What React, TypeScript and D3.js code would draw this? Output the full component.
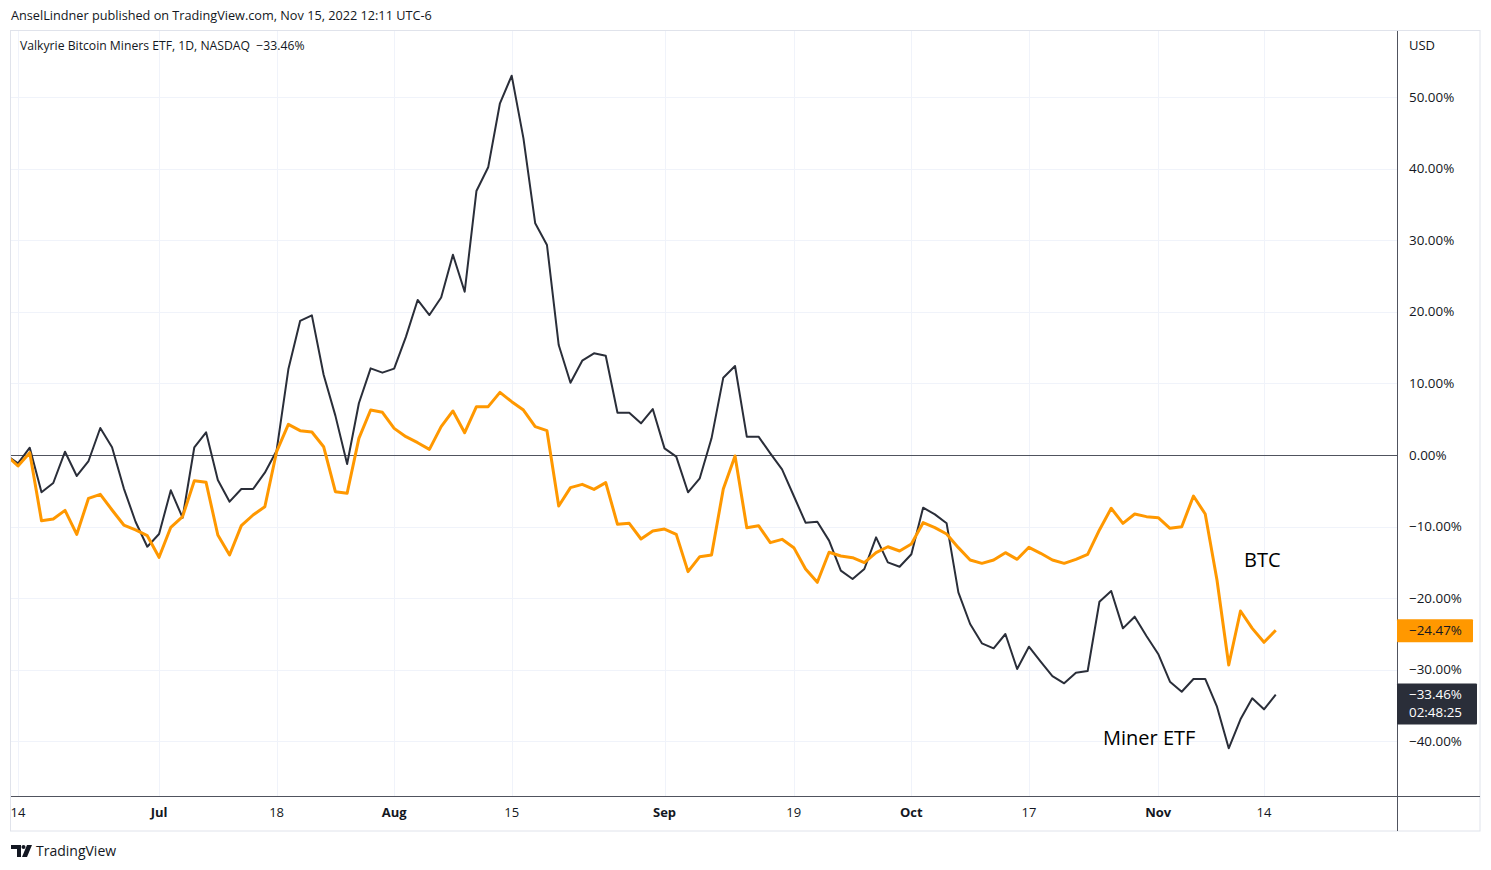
import React from "react";
import * as d3 from "d3";

// trading sessions, 2022 (MM-DD)
const sessions = [
  "06-13", "06-14", "06-15", "06-16", "06-17", "06-21", "06-22", "06-23", "06-24", "06-27", "06-28", "06-29", "06-30",
  "07-01", "07-05", "07-06", "07-07", "07-08", "07-11", "07-12", "07-13", "07-14", "07-15", "07-18", "07-19", "07-20",
  "07-21", "07-22", "07-25", "07-26", "07-27", "07-28", "07-29",
  "08-01", "08-02", "08-03", "08-04", "08-05", "08-08", "08-09", "08-10", "08-11", "08-12", "08-15", "08-16", "08-17",
  "08-18", "08-19", "08-22", "08-23", "08-24", "08-25", "08-26", "08-29", "08-30", "08-31",
  "09-01", "09-02", "09-06", "09-07", "09-08", "09-09", "09-12", "09-13", "09-14", "09-15", "09-16", "09-19", "09-20",
  "09-21", "09-22", "09-23", "09-26", "09-27", "09-28", "09-29", "09-30",
  "10-03", "10-04", "10-05", "10-06", "10-07", "10-10", "10-11", "10-12", "10-13", "10-14", "10-17", "10-18", "10-19",
  "10-20", "10-21", "10-24", "10-25", "10-26", "10-27", "10-28", "10-31",
  "11-01", "11-02", "11-03", "11-04", "11-07", "11-08", "11-09", "11-10", "11-11", "11-14", "11-15",
];

// Valkyrie Bitcoin Miners ETF, % change
const minerEtf = [
  0, -1.16, 1.02, -5.21, -3.91, 0.46, -2.93, -0.84, 3.77, 1.08, -4.65, -9.32, -12.81,
  -11.03, -4.93, -8.76, 1.08, 3.17, -3.49, -6.52, -4.75, -4.75, -2.47, 0.6, 11.97, 18.72,
  19.5, 11.2, 5.5, -1.26, 7.22, 12.1, 11.5,
  12.06, 16.5, 21.65, 19.55, 22.0, 27.97, 22.8, 36.87, 40.18, 49.12, 52.98, 44.23, 32.36,
  29.33, 15.36, 10.1, 13.17, 14.2, 13.87, 5.91, 5.91, 4.42, 6.42,
  0.93, -0.23, -5.21, -3.26, 2.33, 10.8, 12.43, 2.56, 2.56, 0.23, -2.0, -5.73, -9.45,
  -9.31, -11.96, -16.15, -17.32, -15.92, -11.5, -14.99, -15.6,
  -13.87, -7.36, -8.29, -9.54, -19.18, -23.6, -26.3, -27.0, -25.0, -29.89, -26.77, -28.86, -30.87,
  -31.89, -30.4, -30.17, -20.49, -18.99, -24.21, -22.58, -25.28,
  -27.79, -31.66, -33.06, -31.28, -31.28, -35.15, -40.96, -36.91, -33.98, -35.52, -33.46,
];

// BTC, % change
const btc = [
  0, -1.54, 0.32, -9.17, -8.94, -7.73, -11.08, -6.05, -5.49, -7.68, -9.78, -10.47, -11.27,
  -14.29, -10.1, -8.61, -3.59, -3.82, -11.17, -13.97, -9.87, -8.38, -7.22, 0.46, 4.28, 3.4,
  3.21, 1.16, -5.12, -5.35, 2.33, 6.28, 5.96,
  3.72, 2.56, 1.72, 0.79, 3.96, 6.15, 3.12, 6.75, 6.75, 8.75, 7.45, 6.28, 3.96,
  3.4, -7.12, -4.56, -4.1, -4.8, -3.86, -9.68, -9.54, -11.73, -10.61,
  -10.34, -11.08, -16.29, -14.2, -13.97, -4.75, -0.14, -10.15, -9.87, -12.24, -11.78, -12.94, -15.92,
  -17.78, -13.59, -14.11, -14.34, -15.04, -13.64, -12.81, -13.41,
  -12.43, -9.45, -10.15, -11.03, -12.94, -14.66, -15.13, -14.66, -13.64, -14.57, -12.89, -13.73, -14.66,
  -15.13, -14.57, -13.87, -10.47, -7.44, -9.54, -8.24, -8.61,
  -8.75, -10.24, -10.01, -5.73, -8.24, -17.46, -29.33, -21.79, -24.21, -26.16, -24.47,
];

const tickDates = ["06-14", "07-01", "07-18", "08-01", "08-15", "09-01", "09-19", "10-03", "10-17", "11-01", "11-14"];
const tickLabels = ["14", "Jul", "18", "Aug", "15", "Sep", "19", "Oct", "17", "Nov", "14"];
const monthTicks = ["Jul", "Aug", "Sep", "Oct", "Nov"];
const yTicks = [50, 40, 30, 20, 10, 0, -10, -20, -30, -40];

const W = 1491;
const H = 870;
const plot = { left: 11, top: 31, right: 1397, bottom: 796 };
const outer = { right: 1480, bottom: 831 };
const FONT = "'Open Sans', 'Noto Sans', sans-serif";
const TEXT = "#131722";

const fmtPct = (v: number) => (v < 0 ? "\u2212" : "") + Math.abs(v).toFixed(2) + "%";

export default function App() {
  const x = d3.scaleLinear().domain([1, 107]).range([18, 1264]);
  const y = d3.scaleLinear().domain([-40, 50]).range([741.4, 97]);

  const idx = (d: string) => sessions.indexOf(d);
  const line = d3
    .line<number>()
    .x((_, i) => x(i))
    .y((v) => y(v));

  const lastBtc = btc[btc.length - 1];
  const lastMiner = minerEtf[minerEtf.length - 1];

  return (
    <div style={{ position: "fixed", left: 0, top: 0, width: W, height: H, background: "#fff" }}>
      <svg width={W} height={H} style={{ display: "block" }} fontFamily={FONT}>
        <defs>
          <clipPath id="plotClip">
            <rect x={plot.left} y={plot.top} width={plot.right - plot.left} height={plot.bottom - plot.top} />
          </clipPath>
        </defs>
        <rect x={0} y={0} width={W} height={H} fill="#fff" />

        <text x={11} y={20} fontSize={12.7} fill={TEXT}>
          AnselLindner published on TradingView.com, Nov 15, 2022 12:11 UTC-6
        </text>

        {/* grid */}
        <g stroke="#f0f3fa" strokeWidth={1}>
          {tickDates.map((d) => (
            <line key={"v" + d} x1={Math.round(x(idx(d))) + 0.5} x2={Math.round(x(idx(d))) + 0.5} y1={plot.top} y2={plot.bottom} />
          ))}
          {yTicks.map((t) => (
            <line key={"h" + t} x1={plot.left} x2={plot.right} y1={Math.round(y(t)) + 0.5} y2={Math.round(y(t)) + 0.5} />
          ))}
        </g>

        {/* zero line */}
        <line x1={plot.left} x2={plot.right} y1={Math.round(y(0)) + 0.5} y2={Math.round(y(0)) + 0.5} stroke="#50535e" strokeWidth={1} />

        <g clipPath="url(#plotClip)">
          <path d={line(minerEtf) || ""} fill="none" stroke="#2a2e39" strokeWidth={2} strokeLinejoin="round" />
          <path d={line(btc) || ""} fill="none" stroke="#ff9800" strokeWidth={3} strokeLinejoin="round" />
        </g>

        <text x={20} y={50} fontSize={12.2} fill={TEXT}>
          Valkyrie Bitcoin Miners ETF, 1D, NASDAQ{"\u00a0\u00a0"}{fmtPct(lastMiner)}
        </text>

        {/* annotations */}
        <text x={1244} y={567} fontSize={20} fill="#000">BTC</text>
        <text x={1103} y={745} fontSize={20} fill="#000">Miner ETF</text>

        {/* frame */}
        <rect x={10.5} y={30.5} width={outer.right - 10.5} height={outer.bottom - 30.5} fill="none" stroke="#e0e3eb" />
        <line x1={plot.right + 0.5} x2={plot.right + 0.5} y1={plot.top} y2={outer.bottom} stroke="#50535e" />
        <line x1={plot.left} x2={outer.right} y1={plot.bottom + 0.5} y2={plot.bottom + 0.5} stroke="#50535e" />

        {/* right axis */}
        <text x={1409} y={50} fontSize={13} fill={TEXT}>USD</text>
        {yTicks.map((t) => (
          <text key={"yl" + t} x={1409} y={y(t)} dy="0.35em" fontSize={13.4} fill={TEXT}>
            {fmtPct(t)}
          </text>
        ))}

        {/* last value labels */}
        <rect x={plot.right} y={y(lastBtc) - 11} width={76} height={23} fill="#ff9800" rx={1} />
        <text x={1409} y={y(lastBtc)} dy="0.35em" fontSize={13.4} fill={TEXT}>
          {fmtPct(lastBtc)}
        </text>
        <rect x={plot.right} y={y(lastMiner) - 11} width={80} height={41} fill="#2a2e39" rx={1} />
        <text x={1409} y={y(lastMiner)} dy="0.35em" fontSize={13.4} fill="#fff">
          {fmtPct(lastMiner)}
        </text>
        <text x={1409} y={y(lastMiner) + 18} dy="0.35em" fontSize={13.4} fill="#fff">
          02:48:25
        </text>

        {/* bottom axis */}
        {tickDates.map((d, i) => (
          <text
            key={"xl" + d}
            x={x(idx(d))}
            y={817}
            textAnchor="middle"
            fontSize={13}
            fontWeight={monthTicks.includes(tickLabels[i]) ? 700 : 400}
            fill={TEXT}
          >
            {tickLabels[i]}
          </text>
        ))}

        {/* TradingView mark */}
        <g fill={TEXT}>
          <path d="M11,845 H21 V857 H17 V849 H11 Z" />
          <circle cx={23.5} cy={847} r={2} />
          <path d="M27,845 H32 L27,857 H22 Z" />
        </g>
        <text x={36} y={856} fontSize={14} fill={TEXT}>TradingView</text>
      </svg>
    </div>
  );
}
